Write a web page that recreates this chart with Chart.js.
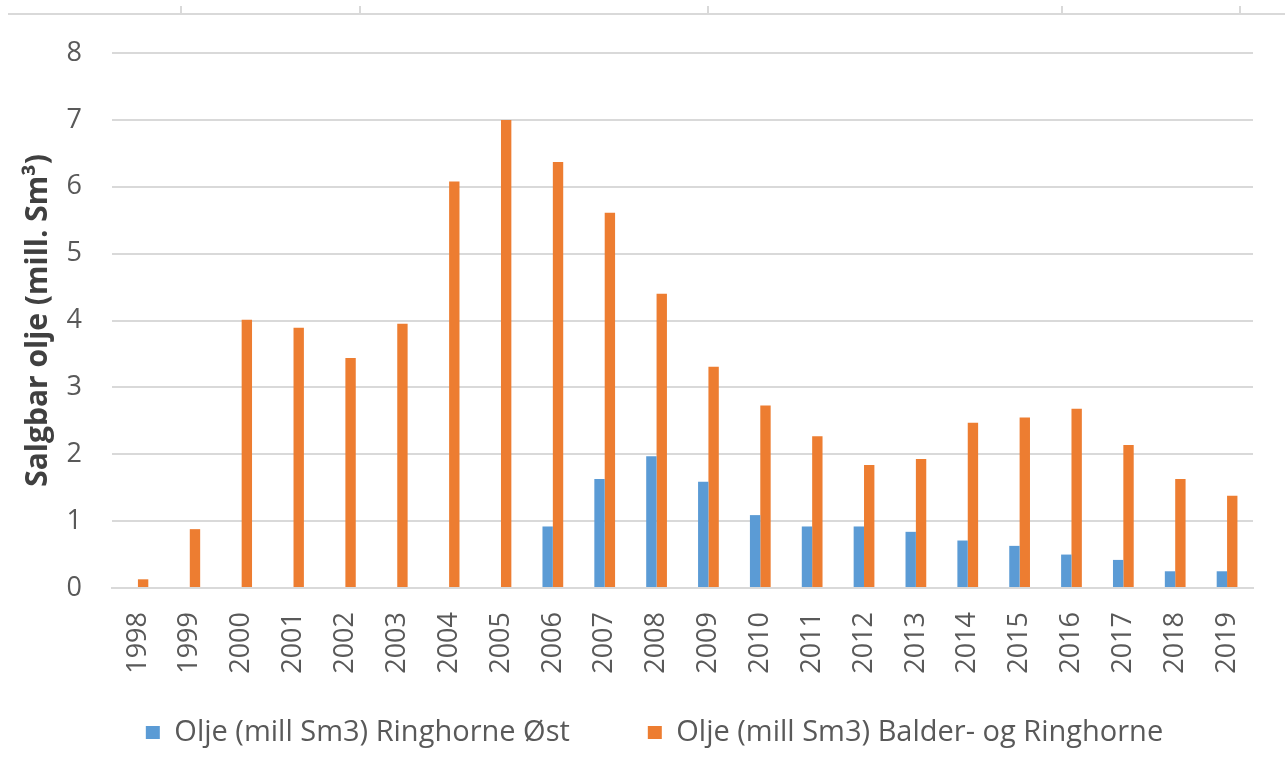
<!DOCTYPE html>
<html><head><meta charset="utf-8">
<script src="https://cdn.jsdelivr.net/npm/chart.js@4"></script>
<style>html,body{margin:0;padding:0;background:#fff;}#wrap{width:1285px;height:765px;position:relative;}</style>
</head><body><div id="wrap"><canvas id="c" width="1285" height="765"></canvas></div>
<script>
const years = ['1998','1999','2000','2001','2002','2003','2004','2005','2006','2007','2008','2009','2010','2011','2012','2013','2014','2015','2016','2017','2018','2019'];
const ringhorneOst = [null,null,null,null,null,null,null,null,0.92,1.63,1.97,1.59,1.09,0.92,0.92,0.84,0.71,0.63,0.50,0.42,0.25,0.25];
const balderRinghorne = [0.13,0.88,4.01,3.89,3.44,3.95,6.08,7.0,6.37,5.61,4.40,3.31,2.73,2.27,1.84,1.93,2.47,2.55,2.68,2.14,1.63,1.38];
const seriesNames = ['Olje (mill Sm3) Ringhorne Øst','Olje (mill Sm3) Balder- og Ringhorne'];
const yTitle = 'Salgbar olje (mill. Sm³)';

const topDecor = {
  id:'topDecor',
  beforeDraw(chart){
    const ctx = chart.ctx; ctx.save();
    ctx.strokeStyle = '#d9d9d9'; ctx.lineWidth = 2;
    ctx.beginPath(); ctx.moveTo(8,14); ctx.lineTo(1285,14); ctx.stroke();
    [181,360,708,1062,1240].forEach(x=>{ctx.beginPath();ctx.moveTo(x,6);ctx.lineTo(x,14);ctx.stroke();});
    ctx.restore();
  }
};

new Chart(document.getElementById('c'), {
  type:'bar',
  data:{
    labels: years,
    datasets:[
      {label:seriesNames[0], data:ringhorneOst, backgroundColor:'#5b9bd5', categoryPercentage:0.4, barPercentage:1.0},
      {label:seriesNames[1], data:balderRinghorne, backgroundColor:'#ed7d31', categoryPercentage:0.4, barPercentage:1.0}
    ]
  },
  options:{
    responsive:false, animation:false,
    layout:{padding:{top:53,right:32,left:56,bottom:8}},
    plugins:{
      tooltip:{enabled:false},
      legend:{position:'bottom', labels:{boxWidth:14, boxHeight:13, padding:78, color:'#595959', font:{family:'Open Sans', size:29}}}
    },
    scales:{
      x:{
        grid:{display:false},
        border:{color:'#d9d9d9', width:2},
        ticks:{color:'#595959', maxRotation:90, minRotation:90, font:{family:'Open Sans', size:27}, padding:16},
        afterFit(s){ s.height = 52; s._computeLabelArea = function(){ return undefined; }; }
      },
      y:{
        min:0, max:8,
        ticks:{stepSize:1, color:'#595959', font:{family:'Open Sans', size:27}, padding:30},
        grid:{color:'#d9d9d9', lineWidth:2, drawTicks:false},
        border:{display:false},
        title:{display:true, text:yTitle, color:'#404040', font:{family:'Open Sans', size:30, weight:'bold'}, padding:{top:-36,bottom:0}},
        afterFit(s){ s.width = 56; }
      }
    }
  },
  plugins:[topDecor]
});
</script></body></html>
